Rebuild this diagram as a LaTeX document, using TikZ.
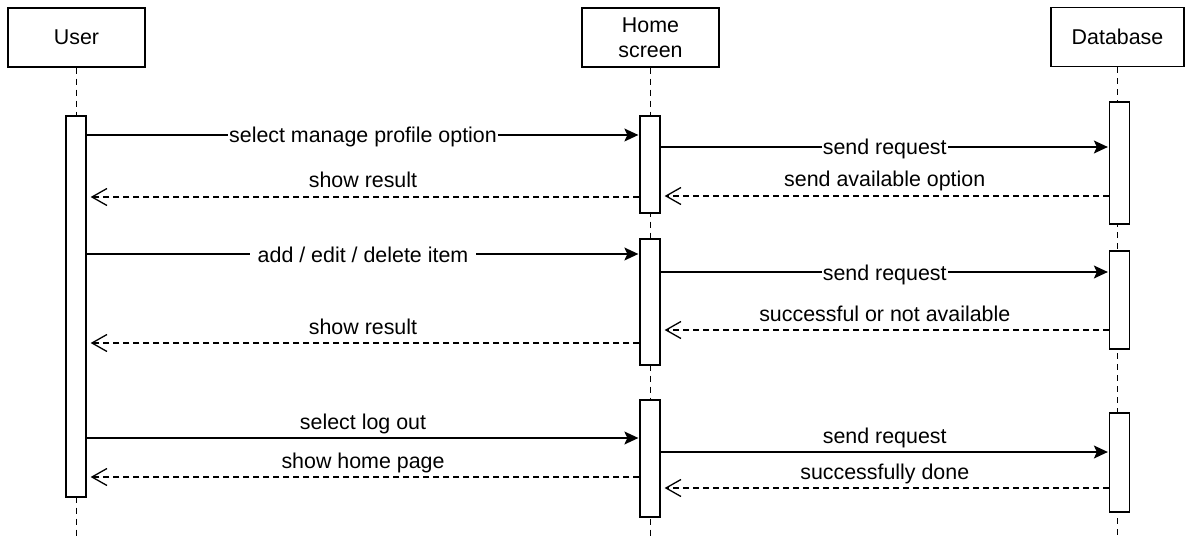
\documentclass[tikz,border=0pt]{standalone}
\usepackage{fontspec}
\setmainfont{Liberation Sans}
\usetikzlibrary{arrows.meta}

\begin{document}
\begin{tikzpicture}[x=1pt,y=-1pt,line width=1.3pt,
    font=\fontsize{21.4}{25.5}\selectfont,
    actor/.style={draw,fill=white,minimum width=137pt,minimum height=59pt,inner sep=0pt,align=center},
    bar/.style={draw,fill=white,minimum width=20pt,inner sep=0pt},
    lifeline/.style={dash pattern=on 6pt off 5pt},
    call/.style={-{Stealth[length=14pt,width=13pt,inset=3pt]},shorten >=1pt},
    reply/.style={dash pattern=on 6pt off 4pt,-{Straight Barb[length=15pt,width=17pt]},shorten >=4pt},
    online/.style={midway,fill=white,inner xsep=1pt,inner ysep=0pt,text height=18pt,text depth=2pt},
    overline/.style={midway,anchor=base,yshift=9pt,inner sep=0pt}]
\useasboundingbox (0,0) rectangle (1185,537);

% heads and lifelines
\node[actor] (user) at (76.5,37.5) {User};
\node[actor] (home) at (650.5,37.5) {Home\\screen};
\node[actor,minimum width=133pt] (db) at (1117.5,37) {Database};
\draw[lifeline] (user.south) -- (user.south |- 0,537);
\draw[lifeline] (home.south) -- (home.south |- 0,537);
\draw[lifeline] (db.south) -- (db.south |- 0,537);

% activation bars
\node[bar,minimum height=381pt] (u1) at (76,306.5) {};
\node[bar,minimum height=97pt] (h1) at (650,164.5) {};
\node[bar,minimum height=126pt] (h2) at (650,302) {};
\node[bar,minimum height=117pt] (h3) at (650,458.5) {};
\node[bar,minimum height=122pt] (d1) at (1119.5,163) {};
\node[bar,minimum height=98pt] (d2) at (1119.5,300) {};
\node[bar,minimum height=99pt] (d3) at (1119.5,462.5) {};

% manage profile
\draw[call] (u1.east |- 0,135) -- (h1.west |- 0,135) node[online] {select manage profile option};
\draw[call] (h1.east |- 0,147) -- (d1.west |- 0,147) node[online] {send request};
\draw[reply] (d1.west |- 0,196) -- (h1.east |- 0,196) node[overline] {send available option};
\draw[reply] (h1.west |- 0,197) -- (u1.east |- 0,197) node[overline] {show result};

% edit items
\draw[call] (u1.east |- 0,254) -- (h2.west |- 0,254) node[online,inner xsep=8pt] {add / edit / delete item};
\draw[call] (h2.east |- 0,272) -- (d2.west |- 0,272) node[online] {send request};
\draw[reply] (d2.west |- 0,330) -- (h2.east |- 0,330) node[overline] {successful or not available};
\draw[reply] (h2.west |- 0,343) -- (u1.east |- 0,343) node[overline] {show result};

% log out
\draw[call] (u1.east |- 0,438) -- (h3.west |- 0,438) node[overline] {select log out};
\draw[call] (h3.east |- 0,452) -- (d3.west |- 0,452) node[overline] {send request};
\draw[reply] (h3.west |- 0,477) -- (u1.east |- 0,477) node[overline] {show home page};
\draw[reply] (d3.west |- 0,488) -- (h3.east |- 0,488) node[overline] {successfully done};
\end{tikzpicture}
\end{document}
